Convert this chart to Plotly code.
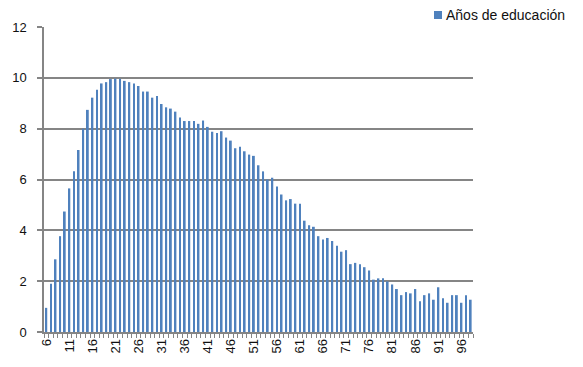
import plotly.graph_objects as go

ages = list(range(6, 99))
anos_educacion = [
    0.95, 1.90, 2.86, 3.77, 4.74, 5.65, 6.32, 7.16, 8.00, 8.74,   # 6-15
    9.22, 9.53, 9.78, 9.83, 9.95, 9.97, 9.96, 9.88, 9.83, 9.78,   # 16-25
    9.68, 9.46, 9.46, 9.22, 9.29, 8.97, 8.84, 8.79, 8.67, 8.44,   # 26-35
    8.30, 8.30, 8.30, 8.19, 8.32, 8.07, 7.88, 7.83, 7.90, 7.65,   # 36-45
    7.53, 7.23, 7.29, 7.11, 6.98, 6.93, 6.56, 6.32, 6.00, 6.07,   # 46-55
    5.72, 5.41, 5.18, 5.23, 5.05, 5.05, 4.38, 4.20, 4.14, 3.77,   # 56-65
    3.64, 3.70, 3.58, 3.39, 3.16, 3.22, 2.67, 2.72, 2.67, 2.55,   # 66-75
    2.42, 2.06, 2.11, 2.11, 1.99, 1.87, 1.69, 1.45, 1.57, 1.52,   # 76-85
    1.69, 1.21, 1.45, 1.52, 1.27, 1.76, 1.33, 1.15, 1.45, 1.45,   # 86-95
    1.15, 1.45, 1.27,                                             # 96-98
]
tick_ages = list(range(6, 99, 5))
tick_labels = [str(a) for a in tick_ages]
y_ticks = [0, 2, 4, 6, 8, 10, 12]
series_name = "Años de educación"

FONT = "Liberation Sans"
GRID = "#858585"
BLUE = "#4F81BD"
TXT = "#111"

fig = go.Figure()
fig.add_trace(go.Bar(
    x=ages, y=anos_educacion, name=series_name,
    marker=dict(color=BLUE, line=dict(width=0)),
    showlegend=False,
))

# legend (drawn manually to match position/size of the reference)
fig.add_shape(type="rect", xref="paper", yref="paper",
              x0=(434 - 44) / 429, x1=(442 - 44) / 429,
              y0=(332 - 19) / 305, y1=(332 - 11) / 305,
              fillcolor=BLUE, line=dict(width=0))
fig.add_annotation(xref="paper", yref="paper",
                   x=(444 - 44) / 429, y=(332 - 15) / 305,
                   xanchor="left", yanchor="middle", showarrow=False,
                   text=series_name, font=dict(family=FONT, size=14, color=TXT))

fig.update_layout(
    width=583, height=367,
    margin=dict(l=44, r=110, t=27, b=35, autoexpand=False),
    paper_bgcolor="white", plot_bgcolor="white",
    bargap=0.6,
    font=dict(family=FONT, size=13, color=TXT),
    xaxis=dict(
        range=[5.5, 98.5], tickmode="array", tickvals=tick_ages, ticktext=tick_labels,
        tickangle=-90, ticks="", showgrid=False, zeroline=False,
        showline=True, linecolor=GRID, linewidth=1.5,
        tickfont=dict(family=FONT, size=13, color=TXT),
        minor=dict(tickmode="linear", tick0=5.5, dtick=1, ticks="outside",
                   ticklen=4, tickcolor=GRID, tickwidth=1, showgrid=False),
    ),
    yaxis=dict(
        range=[0, 12], tickmode="array", tickvals=y_ticks,
        ticks="outside", ticklen=5, tickcolor=GRID, tickwidth=1.5,
        ticklabelstandoff=8,
        showgrid=True, gridcolor=GRID, gridwidth=1.5, zeroline=False,
        showline=True, linecolor=GRID, linewidth=1.5,
        tickfont=dict(family=FONT, size=13, color=TXT),
    ),
)

fig.write_html("out.html")
